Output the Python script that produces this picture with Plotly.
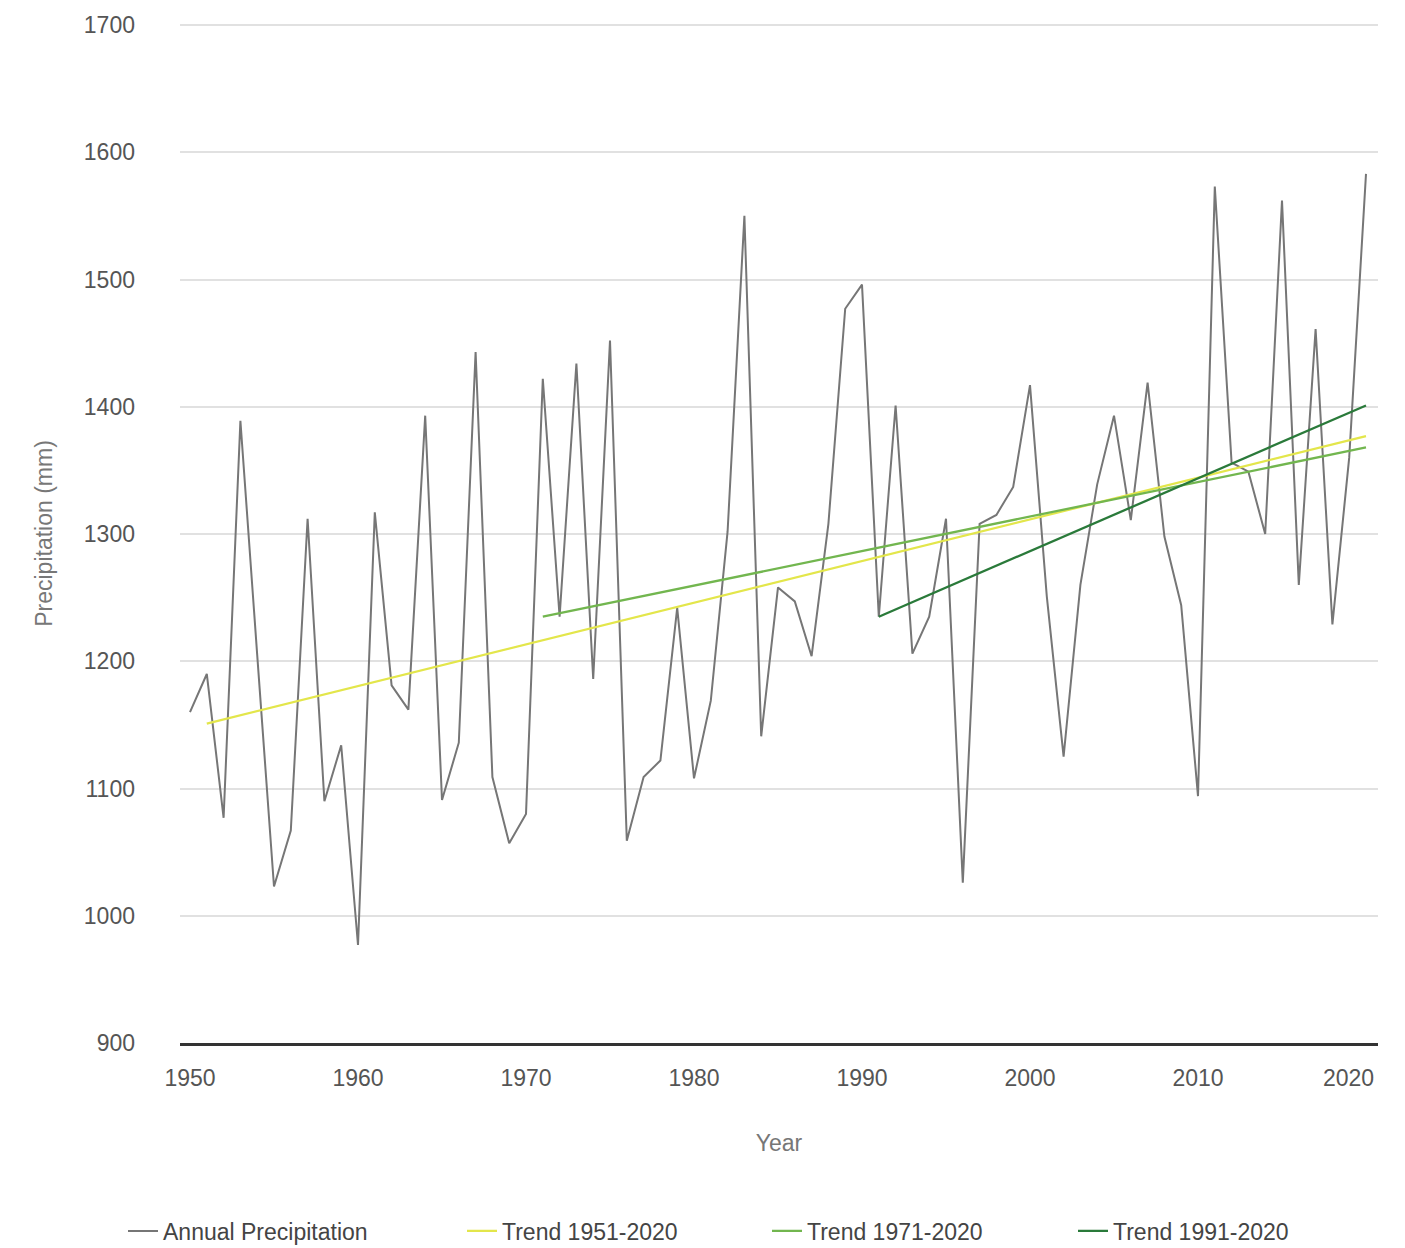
import plotly.graph_objects as go

# Annual precipitation totals (mm), 1950-2020
years = list(range(1950, 2021))
precip = [
    1160, 1190, 1077, 1389, 1205, 1023, 1067, 1312, 1090, 1134,
    977, 1317, 1181, 1162, 1393, 1091, 1136, 1443, 1109, 1057,
    1080, 1422, 1235, 1434, 1186, 1452, 1059, 1109, 1122, 1242,
    1108, 1169, 1302, 1550, 1141, 1258, 1247, 1204, 1308, 1477,
    1496, 1235, 1401, 1206, 1235, 1312, 1026, 1308, 1315, 1337,
    1417, 1251, 1125, 1260, 1339, 1393, 1311, 1419, 1298, 1244,
    1094, 1573, 1356, 1349, 1300, 1562, 1260, 1461, 1229, 1360,
    1583,
]

# Linear trends: (start year, end year) and fitted values at those years
trend_names = ["Trend 1951-2020", "Trend 1971-2020", "Trend 1991-2020"]
trend_years = [[1951, 2020], [1971, 2020], [1991, 2020]]
trend_values = [[1151, 1377], [1235, 1368], [1235, 1401]]
trend_colors = ["#e3e64b", "#72b64f", "#2a7a3a"]

x_ticks = [1950, 1960, 1970, 1980, 1990, 2000, 2010, 2020]
y_ticks = [900, 1000, 1100, 1200, 1300, 1400, 1500, 1600, 1700]

FONT = "Liberation Sans, Arial, sans-serif"
W, H = 1405, 1248
TICK_COLOR = "#555555"

fig = go.Figure()

fig.add_trace(go.Scatter(
    x=years, y=precip, mode="lines", name="Annual Precipitation",
    line=dict(color="#767676", width=2), legend="legend",
))

legend_keys = ["legend2", "legend3", "legend4"]
for name, xs, ys, col, lg in zip(trend_names, trend_years, trend_values,
                                 trend_colors, legend_keys):
    fig.add_trace(go.Scatter(
        x=xs, y=ys, mode="lines", name=name,
        line=dict(color=col, width=2.3), legend=lg,
    ))

# one legend box per entry so each sits at its own horizontal position
legend_text_x = [163, 502, 807, 1113]
legend_common = dict(
    orientation="h", xref="container", yref="container",
    xanchor="left", yanchor="middle", y=1 - 1231 / H,
    font=dict(family=FONT, size=23, color="#444444"),
    bgcolor="rgba(0,0,0,0)", borderwidth=0,
)
legends = {}
for key, tx in zip(["legend"] + legend_keys, legend_text_x):
    legends[key] = dict(legend_common, x=(tx - 40) / W)

# the last year label is pulled inward so it stays inside the chart width
last_tick = x_ticks[-1]
tick_text = [str(v) if v != last_tick else "" for v in x_ticks]

fig.update_layout(
    width=W, height=H,
    margin=dict(l=180, r=27, t=14, b=205),
    paper_bgcolor="white", plot_bgcolor="white",
    font=dict(family=FONT, size=23, color=TICK_COLOR),
    showlegend=True,
    annotations=[dict(
        x=last_tick, xref="x", y=0, yref="paper",
        text=str(last_tick), showarrow=False,
        xanchor="center", yanchor="top", xshift=-18, yshift=-20,
        font=dict(family=FONT, size=23, color=TICK_COLOR),
    )],
    **legends,
)

fig.update_xaxes(
    range=[1949.405, 2020.714],
    tickvals=x_ticks, ticktext=tick_text,
    showgrid=False, zeroline=False,
    showline=True, linecolor="#333333", linewidth=2.5,
    ticks="", ticklabelstandoff=13,
    tickfont=dict(family=FONT, size=23, color=TICK_COLOR),
    title=dict(text="Year", standoff=45,
               font=dict(family=FONT, size=23, color="#777777")),
)

fig.update_yaxes(
    range=[900, 1700.8],
    tickvals=y_ticks, ticktext=[str(v) for v in y_ticks],
    showgrid=True, gridcolor="#e1e1e1", gridwidth=1.5,
    zeroline=False, showline=False, ticks="",
    ticklabelstandoff=44,
    tickfont=dict(family=FONT, size=23, color=TICK_COLOR),
    title=dict(text="Precipitation (mm)", standoff=24,
               font=dict(family=FONT, size=23, color="#777777")),
)

fig.write_html("out.html")
